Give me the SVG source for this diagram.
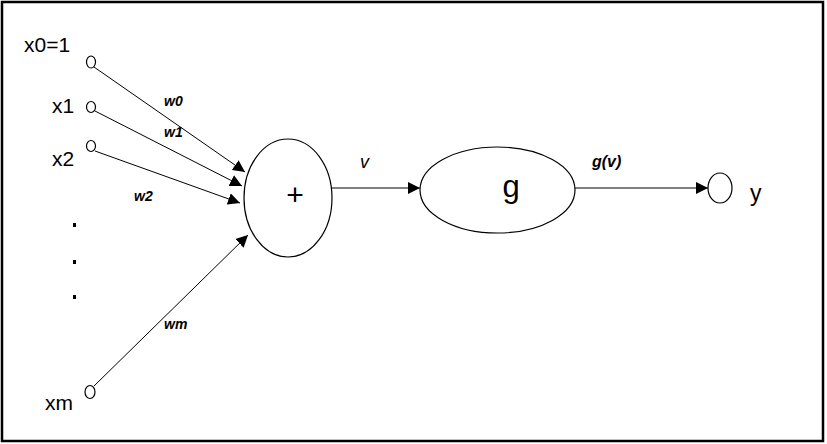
<svg xmlns="http://www.w3.org/2000/svg" width="827" height="444" viewBox="0 0 827 444">
<style>
.lbl{font-family:"Liberation Sans",Arial,sans-serif;fill:#000}
.w{font-family:"Liberation Sans",Arial,sans-serif;font-style:italic;font-size:14px;font-weight:bold;fill:#000}
.node{fill:#fff;stroke:#000;stroke-width:1.2}
.edge{stroke:#000;stroke-width:1;fill:none;marker-end:url(#ah)}
</style>
<defs>
<marker id="ah" viewBox="0 0 10 10" refX="10" refY="5" markerWidth="12" markerHeight="12" markerUnits="userSpaceOnUse" orient="auto">
<path d="M0,0 L10,5 L0,10 z" fill="#000"/>
</marker>
</defs>
<rect x="2" y="2" width="821" height="439" fill="#fff" stroke="#000" stroke-width="2.5"/>
<g id="connectors">
<line class="edge" x1="94" y1="67" x2="245" y2="172"/>
<line class="edge" x1="95" y1="111" x2="242" y2="186"/>
<line class="edge" x1="95" y1="151" x2="240" y2="203"/>
<line class="edge" x1="94" y1="386" x2="248" y2="235"/>
<line class="edge" x1="332" y1="188" x2="420" y2="188"/>
<line class="edge" x1="575" y1="188" x2="708" y2="188"/>
</g>
<g id="x0"><ellipse class="node" cx="91" cy="62" rx="4.5" ry="6"/><text class="lbl" x="24" y="52" font-size="21">x0=1</text></g>
<g id="x1"><ellipse class="node" cx="91" cy="107" rx="4.5" ry="5.5"/><text class="lbl" x="52" y="113" font-size="21">x1</text></g>
<g id="x2"><ellipse class="node" cx="91" cy="146" rx="4.5" ry="5.5"/><text class="lbl" x="52" y="166" font-size="21">x2</text></g>
<g id="dots"><rect x="73" y="223" width="3" height="4"/><rect x="73" y="260" width="3" height="4"/><rect x="73" y="295" width="3" height="4"/></g>
<g id="xm"><ellipse class="node" cx="90" cy="392" rx="5" ry="6.5"/><text class="lbl" x="45" y="410" font-size="21">xm</text></g>
<g id="weights">
<text class="w" x="164" y="106">w0</text>
<text class="w" x="164" y="137">w1</text>
<text class="w" x="134" y="201">w2</text>
<text class="w" x="164" y="329">wm</text>
<text class="w" x="360" y="168" style="font-size:18px;font-weight:normal">v</text>
<text class="w" x="592" y="167" style="font-size:16px">g(v)</text>
</g>
<g id="sum"><ellipse class="node" cx="288" cy="198" rx="44" ry="59"/><text class="lbl" x="295" y="205" font-size="30" text-anchor="middle">+</text></g>
<g id="g"><ellipse class="node" cx="497.5" cy="190" rx="77.5" ry="43"/><text class="lbl" x="511" y="197" font-size="31" text-anchor="middle">g</text></g>
<g id="y"><ellipse class="node" cx="720" cy="188" rx="12" ry="15"/><text class="lbl" x="750" y="201" font-size="23">y</text></g>
</svg>
